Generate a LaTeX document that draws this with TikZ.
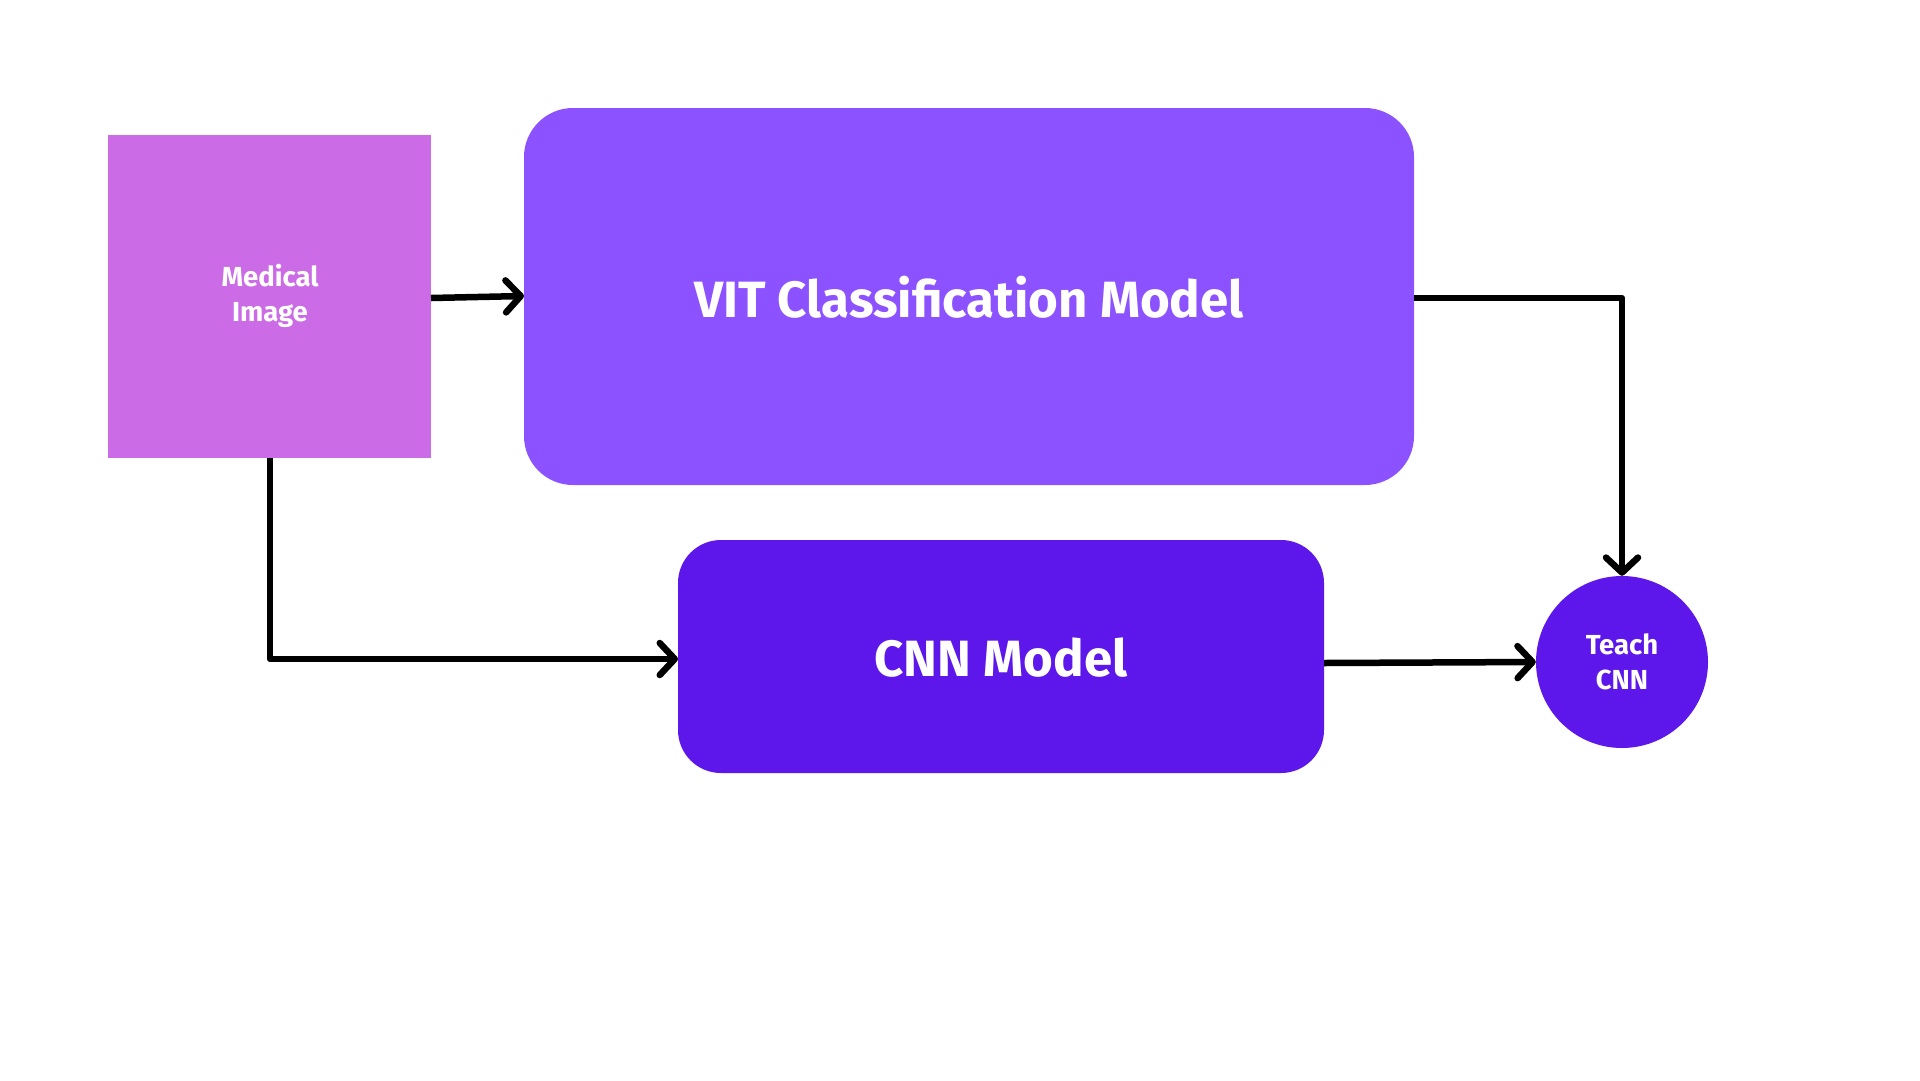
\documentclass[tikz,border=0pt]{standalone}
\usepackage{fontspec}
\setmainfont{Fira Sans}
\usetikzlibrary{arrows.meta}
\definecolor{medc}{HTML}{CB6CE6}
\definecolor{vitc}{HTML}{8C52FF}
\definecolor{cnnc}{HTML}{5E17EB}
\tikzset{
  x=1pt, y=-1pt,
  conn/.style={draw=black, line width=6.5pt, line join=round,
    -{Straight Barb[length=15pt,width=32pt,line cap=round,line join=round]}},
  bigtxt/.style={text=white, font=\fontsize{51}{56}\selectfont\bfseries},
  smalltxt/.style={text=white, align=center, font=\fontsize{27.5}{35}\selectfont\bfseries},
}
\begin{document}
\begin{tikzpicture}
\useasboundingbox[fill=white] (0,0) rectangle (1920,1080);
% shapes
\fill[medc] (108,135) rectangle (431,458);
\node[smalltxt] (med) at (270,296) {Medical\\Image};
\coordinate (medR) at (431,298);
\coordinate (medB) at (270,458);

\fill[vitc, rounded corners=49pt] (524,108) rectangle (1414,485);
\node[bigtxt] (vit) at (969,297) {VIT Classification Model};
\coordinate (vitL) at (524,296);
\coordinate (vitR) at (1414,298);

\fill[cnnc, rounded corners=43pt] (678,540) rectangle (1324,773);
\node[bigtxt] (cnn) at (1001,658) {CNN Model};
\coordinate (cnnL) at (678,659);
\coordinate (cnnR) at (1324,663);

\node[circle, fill=cnnc, minimum size=172pt, inner sep=0pt] (teach) at (1622,662) {};
\node[smalltxt] (teachtxt) at (1622,662) {Teach\\CNN};

% connectors
\draw[conn] (medR) -- (vitL);
\draw[conn] (medB) |- (cnnL);
\draw[conn] (vitR) -| (teach.north);
\draw[conn] (cnnR) -- (teach.west);
\end{tikzpicture}
\end{document}
